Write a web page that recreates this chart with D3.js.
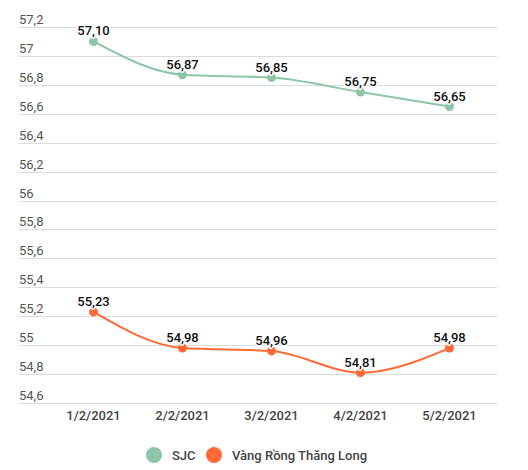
<!DOCTYPE html>
<html>
<head>
<meta charset="utf-8">
<script src="https://cdn.jsdelivr.net/npm/d3@7"></script>
<style>
  body { margin: 0; background: #fff; }
  svg { display: block; font-family: Roboto, "Noto Sans", sans-serif; }
</style>
</head>
<body>
<svg id="chart" width="528" height="470"></svg>
<script>
const dates = ['1/2/2021', '2/2/2021', '3/2/2021', '4/2/2021', '5/2/2021'];
const sjc = [57.10, 56.87, 56.85, 56.75, 56.65];
const rongThangLong = [55.23, 54.98, 54.96, 54.81, 54.98];
const yTicks = [54.6, 54.8, 55, 55.2, 55.4, 55.6, 55.8, 56, 56.2, 56.4, 56.6, 56.8, 57, 57.2];
const seriesNames = ['SJC', 'Vàng Rồng Thăng Long'];
const seriesColors = ['#8cc6a6', '#ff6a38'];

const svg = d3.select('#chart');
const gridLeft = 19, gridRight = 497;

const x = d3.scaleBand().domain(dates).range([49, 494]);
const y = d3.scaleLinear().domain([54.6, 57.2]).range([403, 27]);

const fmt = v => v.toFixed(2).replace('.', ',');
const fmtTick = v => d3.format('~g')(v).replace('.', ',');

// grid + y labels
const grid = svg.append('g');
grid.selectAll('line')
  .data(yTicks)
  .enter()
  .append('line')
  .attr('x1', gridLeft)
  .attr('x2', gridRight)
  .attr('y1', d => Math.round(y(d)) + 0.5)
  .attr('y2', d => Math.round(y(d)) + 0.5)
  .attr('stroke', '#dcdcdc')
  .attr('stroke-width', 1);

grid.selectAll('text')
  .data(yTicks)
  .enter()
  .append('text')
  .attr('x', gridLeft)
  .attr('y', d => y(d) - 3)
  .style('font-size', '13px')
  .style('fill', '#555')
  .text(fmtTick);

// x labels
svg.append('g')
  .selectAll('text')
  .data(dates)
  .enter()
  .append('text')
  .attr('x', d => x(d) + x.bandwidth() / 2)
  .attr('y', 420)
  .attr('text-anchor', 'middle')
  .style('font-size', '13px')
  .style('font-weight', '500')
  .style('fill', '#444')
  .text(d => d);

const line = d3.line()
  .x((d, i) => x(dates[i]) + x.bandwidth() / 2)
  .y(d => y(d))
  .curve(d3.curveMonotoneX);

[sjc, rongThangLong].forEach((values, si) => {
  const g = svg.append('g');
  g.append('path')
    .attr('d', line(values))
    .attr('fill', 'none')
    .attr('stroke', seriesColors[si])
    .attr('stroke-width', 2);

  g.selectAll('circle')
    .data(values)
    .enter()
    .append('circle')
    .attr('cx', (d, i) => x(dates[i]) + x.bandwidth() / 2)
    .attr('cy', d => y(d))
    .attr('r', 4.5)
    .attr('fill', seriesColors[si]);

  // white halo, then the label itself
  g.selectAll('text.halo')
    .data(values)
    .enter()
    .append('text')
    .attr('class', 'halo')
    .attr('x', (d, i) => x(dates[i]) + x.bandwidth() / 2)
    .attr('y', d => y(d) - 6)
    .attr('text-anchor', 'middle')
    .style('font-size', '13px')
    .style('font-weight', '500')
    .style('fill', 'none')
    .style('stroke', '#fff')
    .style('stroke-width', '3px')
    .style('stroke-linejoin', 'round')
    .text(fmt);

  g.selectAll('text.val')
    .data(values)
    .enter()
    .append('text')
    .attr('class', 'val')
    .attr('x', (d, i) => x(dates[i]) + x.bandwidth() / 2)
    .attr('y', d => y(d) - 6)
    .attr('text-anchor', 'middle')
    .style('font-size', '13px')
    .style('font-weight', '500')
    .style('fill', '#111')
    .text(fmt);
});

// legend
const legend = svg.append('g');
const legendX = [154, 214];
seriesNames.forEach((name, i) => {
  legend.append('circle')
    .attr('cx', legendX[i])
    .attr('cy', 455)
    .attr('r', 8)
    .attr('fill', seriesColors[i]);
  legend.append('text')
    .attr('x', legendX[i] + 18)
    .attr('y', 460)
    .style('font-size', '13px')
    .style('font-weight', '500')
    .style('fill', '#444')
    .text(name);
});
</script>
</body>
</html>
